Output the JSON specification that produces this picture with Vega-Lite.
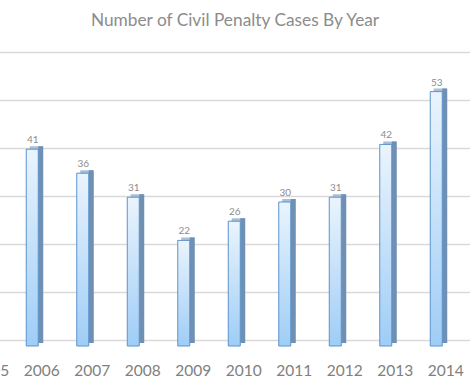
{
  "$schema": "https://vega.github.io/schema/vega-lite/v6.json",
  "autosize": "none",
  "padding": {"left": 0, "top": 0, "right": 0, "bottom": 52},
  "width": 470,
  "height": 340,
  "background": "white",
  "title": {
    "text": "Number of Civil Penalty Cases By Year",
    "anchor": "middle",
    "frame": "group",
    "offset": -29,
    "fontSize": 17.3,
    "font": "Lato",
    "fontWeight": "normal",
    "color": "#8c8c8c"
  },
  "data": {
    "values": [
      {"year": "2006", "cases": 41},
      {"year": "2007", "cases": 36},
      {"year": "2008", "cases": 31},
      {"year": "2009", "cases": 22},
      {"year": "2010", "cases": 26},
      {"year": "2011", "cases": 30},
      {"year": "2012", "cases": 31},
      {"year": "2013", "cases": 42},
      {"year": "2014", "cases": 53}
    ]
  },
  "config": {
    "view": {"stroke": null}
  },
  "encoding": {
    "x": {
      "field": "year",
      "type": "ordinal",
      "sort": null,
      "scale": {
        "domain": ["2005", "2006", "2007", "2008", "2009", "2010", "2011", "2012", "2013", "2014"],
        "range": [-34, 471],
        "paddingInner": 0,
        "paddingOuter": 0
      },
      "axis": {
        "title": null,
        "domain": false,
        "ticks": false,
        "labelAngle": 0,
        "labelFont": "Lato",
        "labelFontSize": 15.5,
        "labelColor": "#808080",
        "labelPadding": 23,
        "labelBound": false,
        "labelFlush": false,
        "labelOverlap": false
      }
    },
    "y": {
      "field": "cases",
      "type": "quantitative",
      "scale": {"domain": [0, 70.833], "nice": false, "zero": true},
      "axis": {
        "title": null,
        "labels": false,
        "ticks": false,
        "domain": false,
        "values": [0, 10, 20, 30, 40, 50, 60],
        "gridColor": "#d9d9d9",
        "gridWidth": 1.5
      }
    }
  },
  "layer": [
    {
      "mark": {"type": "bar", "width": 13, "xOffset": -5.5, "yOffset": 3, "color": "#a9bfd8"}
    },
    {
      "mark": {"type": "bar", "width": 5, "xOffset": -1, "yOffset": 3, "color": "#6f8fb3"}
    },
    {
      "mark": {
        "type": "bar",
        "width": 12,
        "xOffset": -9.5,
        "yOffset": 6,
        "stroke": "#5b93cc",
        "strokeWidth": 1,
        "fill": {
          "gradient": "linear",
          "x1": 0, "y1": 0, "x2": 0, "y2": 1,
          "stops": [
            {"offset": 0, "color": "#eaf4fd"},
            {"offset": 1, "color": "#9fcdf6"}
          ]
        }
      }
    },
    {
      "mark": {
        "type": "text",
        "xOffset": -9,
        "yOffset": 6,
        "dy": -6,
        "baseline": "alphabetic",
        "font": "Lato",
        "fontSize": 10,
        "color": "#8c8c8c"
      },
      "encoding": {"text": {"field": "cases", "type": "quantitative"}}
    }
  ]
}
